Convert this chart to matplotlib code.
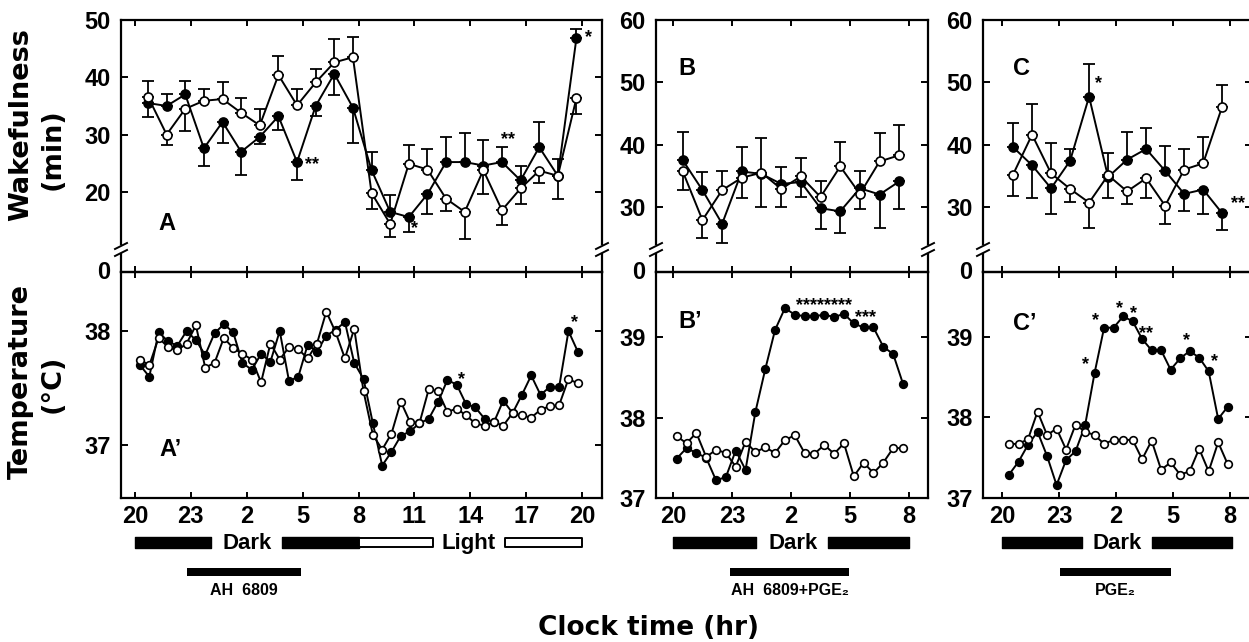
import numpy as np
import matplotlib
matplotlib.use("Agg")
from matplotlib import pyplot as plt

W, H = 1249, 642

# ---- data (hours after 20:00) ----
a_wake_x = np.arange(24) + 0.7
a_wake_filled = [35.5, 35.0, 37.0, 27.6, 32.2, 27.0, 29.6, 33.2, 25.2, 35.0, 40.6, 34.7,
                 23.8, 16.5, 15.6, 19.6, 25.2, 25.2, 24.6, 25.2, 22.0, 27.8, 22.8, 46.9]
a_wake_open = [36.6, 30.0, 34.5, 35.9, 36.2, 33.8, 31.6, 40.4, 35.1, 39.1, 42.6, 43.5,
               19.8, 14.4, 24.9, 23.9, 18.8, 16.5, 23.8, 16.8, 20.6, 23.7, 22.8, 36.4]
a_err_filled = [2.5, 2.1, 2.4, 3.0, 3.6, 4.1, 1.2, 2.4, 3.1, 1.8, 3.7, 6.2,
                3.2, 2.9, 2.6, 3.4, 4.4, 5.0, 4.4, 2.6, 2.6, 4.4, 3.0, 1.5]
a_err_open = [2.8, 1.8, 3.8, 2.1, 2.9, 2.6, 2.8, 3.3, 2.9, 2.4, 4.1, 3.5,
              2.8, 2.2, 3.2, 3.6, 2.2, 4.7, 4.1, 2.6, 2.8, 2.1, 4.0, 2.8]

a_temp_x = np.arange(48) * 0.5 + 0.27
a_temp_filled = [37.70, 37.60, 37.99, 37.91, 37.87, 38.00, 37.92, 37.79, 37.98, 38.06,
                 37.99, 37.72, 37.66, 37.80, 37.73, 38.00, 37.56, 37.60, 37.88, 37.82,
                 37.96, 38.01, 38.08, 37.72, 37.58, 37.19, 36.82, 36.94, 37.08, 37.12,
                 37.19, 37.23, 37.38, 37.57, 37.53, 37.36, 37.33, 37.23, 37.20, 37.39,
                 37.28, 37.44, 37.61, 37.44, 37.51, 37.51, 38.00, 37.82]
a_temp_open = [37.75, 37.70, 37.94, 37.86, 37.83, 37.89, 38.05, 37.68, 37.72, 37.94,
               37.85, 37.80, 37.75, 37.55, 37.89, 37.75, 37.86, 37.84, 37.76, 37.89,
               38.17, 37.99, 37.76, 38.02, 37.47, 37.09, 36.96, 37.10, 37.38, 37.20,
               37.19, 37.49, 37.47, 37.29, 37.32, 37.26, 37.19, 37.17, 37.20, 37.17,
               37.28, 37.26, 37.24, 37.31, 37.34, 37.35, 37.58, 37.54]

b_wake_x = np.arange(12) + 0.5
b_wake_filled = [37.5, 32.7, 27.3, 35.7, 35.3, 33.7, 34.0, 29.8, 29.3, 33.0, 32.0, 34.1]
b_wake_open = [35.7, 27.9, 32.7, 34.7, 35.5, 32.9, 34.9, 31.6, 36.5, 32.1, 37.3, 38.3]
b_err_filled = [4.6, 2.9, 3.0, 4.0, 5.3, 2.7, 2.4, 3.4, 3.5, 2.8, 5.4, 4.4]
b_err_open = [2.9, 2.8, 3.0, 3.2, 5.5, 2.9, 3.0, 2.6, 3.9, 2.5, 4.5, 4.9]

b_temp_x = np.arange(24) * 0.5 + 0.19
b_temp_filled = [37.49, 37.62, 37.56, 37.50, 37.22, 37.26, 37.59, 37.35, 38.07, 38.60,
                 39.09, 39.36, 39.28, 39.26, 39.26, 39.28, 39.25, 39.29, 39.17, 39.12,
                 39.12, 38.88, 38.79, 38.42]
b_temp_open = [37.77, 37.68, 37.81, 37.51, 37.60, 37.56, 37.39, 37.70, 37.57, 37.63,
               37.56, 37.72, 37.78, 37.56, 37.55, 37.66, 37.55, 37.68, 37.27, 37.44,
               37.31, 37.44, 37.62, 37.62]

c_wake_x = np.arange(12) + 0.58
c_wake_filled = [39.6, 36.7, 33.0, 37.4, 47.7, 34.8, 37.6, 39.3, 35.8, 32.1, 32.8, 29.0]
c_wake_open = [35.2, 41.6, 35.4, 32.9, 30.7, 35.1, 32.5, 34.6, 30.2, 36.0, 37.0, 46.1]
c_err_filled = [3.9, 5.2, 4.2, 1.9, 5.2, 3.4, 4.4, 3.4, 4.0, 2.7, 4.0, 2.7]
c_err_open = [3.4, 4.9, 4.8, 2.1, 4.1, 3.5, 2.1, 3.2, 3.0, 3.3, 4.2, 3.4]

c_temp_x = np.arange(24) * 0.5 + 0.37
c_temp_filled = [37.29, 37.45, 37.66, 37.82, 37.52, 37.16, 37.47, 37.58, 37.90, 38.55,
                 39.11, 39.11, 39.25, 39.19, 38.97, 38.83, 38.83, 38.59, 38.73, 38.82,
                 38.74, 38.57, 37.98, 38.13]
c_temp_open = [37.67, 37.67, 37.73, 38.07, 37.78, 37.86, 37.60, 37.91, 37.82, 37.78,
               37.67, 37.72, 37.72, 37.72, 37.48, 37.71, 37.35, 37.44, 37.29, 37.33,
               37.61, 37.33, 37.69, 37.42]

# significance marks (hour, value, text)
a_wake_stars = [(9.5, 25.2, "**"), (15.0, 14.1, "*"), (20.0, 29.6, "**"), (24.35, 47.5, "*")]
a_temp_stars = [(17.55, 37.6, "*"), (23.6, 38.1, "*")]
b_wake_stars = []
b_temp_stars = [(7.7, 39.43, "********"), (9.8, 39.28, "***")]
c_wake_stars = [(5.05, 50.3, "*"), (12.4, 31.0, "**")]
c_temp_stars = [(4.37, 38.69, "*"), (4.9, 39.23, "*"), (6.2, 39.38, "*"), (6.9, 39.32, "*"),
                (7.6, 39.07, "**"), (9.7, 38.98, "*"), (11.2, 38.72, "*")]

# light/dark bars and treatment periods (hours)
a_dark = [(0, 4.1), (7.9, 12)]
a_light = [(12, 16.0), (19.85, 24)]
a_treat = (2.8, 8.9)
b_dark = [(0, 4.2), (7.9, 12)]
b_treat = (2.9, 8.95)
c_dark = [(0, 4.2), (7.9, 12.1)]
c_treat = (3.05, 8.9)

long_labels = ["20", "23", "2", "5", "8", "11", "14", "17", "20"]
short_labels = ["20", "23", "2", "5", "8"]

plt.rcParams["font.family"] = ["Liberation Sans", "DejaVu Sans"]
plt.rcParams["font.weight"] = "bold"

fig = plt.figure(figsize=(W / 100, H / 100), dpi=100)


def rect(l, t, r, b):
    return [l / W, 1 - b / H, (r - l) / W, (b - t) / H]


def ftext(x, y, s, **kw):
    fig.text(x / W, 1 - y / H, s, **kw)


def series(ax, x, y, filled, ms):
    ax.plot(x, y, "-", color="k", lw=1.4, marker="o", ms=ms,
            mfc="k" if filled else "white", mec="k", mew=1.2,
            zorder=3 if filled else 4, clip_on=False)


def errbars(ax, x, f, o, ef, eo):
    f, o, ef, eo = map(np.asarray, (f, o, ef, eo))
    up = f >= o
    ax.errorbar(x, f, yerr=[np.where(up, 0, ef), np.where(up, ef, 0)], fmt="none",
                ecolor="k", elinewidth=1.3, capsize=4, capthick=1.3, zorder=2)
    ax.errorbar(x, o, yerr=[np.where(up, eo, 0), np.where(up, 0, eo)], fmt="none",
                ecolor="k", elinewidth=1.3, capsize=4, capthick=1.3, zorder=2)


def stars(ax, marks):
    for x, y, s in marks:
        ax.annotate(s, xy=(x, y), xytext=(0, -2), textcoords="offset points",
                    fontsize=13, ha="center", va="center", annotation_clip=False)


panels = [
    dict(left=121, right=602, xlim=(-0.75, 25.07), xticks=range(0, 25, 3), xlabels=long_labels,
         wlim=(10.9, 50), wticks=[20, 30, 40, 50], tlim=(36.535, 38.518), tticks=[37, 38],
         wx=a_wake_x, wf=a_wake_filled, wo=a_wake_open, ef=a_err_filled, eo=a_err_open,
         tx=a_temp_x, tf=a_temp_filled, to=a_temp_open, ws=a_wake_stars, ts=a_temp_stars,
         dark=a_dark, light=a_light, treat=a_treat, treat_label="AH  6809", dark_x=6.0,
         letters=[("A", 167, 230), ("A\u2019", 171, 456)], break_right=True),
    dict(left=656, right=928, xlim=(-0.86, 12.96), xticks=range(0, 13, 3), xlabels=short_labels,
         wlim=(24.06, 60), wticks=[30, 40, 50, 60], tlim=(37, 39.81), tticks=[37, 38, 39],
         wx=b_wake_x, wf=b_wake_filled, wo=b_wake_open, ef=b_err_filled, eo=b_err_open,
         tx=b_temp_x, tf=b_temp_filled, to=b_temp_open, ws=b_wake_stars, ts=b_temp_stars,
         dark=b_dark, light=[], treat=b_treat, treat_label="AH  6809+PGE\u2082", dark_x=6.1,
         letters=[("B", 687, 75), ("B\u2019", 690, 328)], break_right=True),
    dict(left=983, right=1252, xlim=(-1.0, 13.15), xticks=range(0, 13, 3), xlabels=short_labels,
         wlim=(24.06, 60), wticks=[30, 40, 50, 60], tlim=(37, 39.8), tticks=[37, 38, 39],
         wx=c_wake_x, wf=c_wake_filled, wo=c_wake_open, ef=c_err_filled, eo=c_err_open,
         tx=c_temp_x, tf=c_temp_filled, to=c_temp_open, ws=c_wake_stars, ts=c_temp_stars,
         dark=c_dark, light=[], treat=c_treat, treat_label="PGE\u2082", dark_x=6.05,
         letters=[("C", 1022, 75), ("C\u2019", 1025, 330)], break_right=False),
]

# overlay in pixel units for the axis breaks
ov = fig.add_axes([0, 0, 1, 1], zorder=-1)
ov.set_xlim(0, W)
ov.set_ylim(H, 0)
ov.axis("off")

for p in panels:
    top = fig.add_axes(rect(p["left"], 20, p["right"], 244))
    bot = fig.add_axes(rect(p["left"], 272, p["right"], 498))
    for ax in (top, bot):
        ax.set_facecolor("none")
        ax.set_xlim(*p["xlim"])
        ax.set_xticks(list(p["xticks"]))
        for s in ax.spines.values():
            s.set_linewidth(1.6)
        ax.tick_params(axis="y", which="both", left=True, right=True, direction="in",
                       length=5, width=1.4, labelsize=17, pad=7.5)

    # wakefulness
    top.spines["bottom"].set_visible(False)
    top.set_ylim(*p["wlim"])
    top.set_yticks(p["wticks"])
    top.tick_params(axis="x", bottom=False, top=True, direction="in", length=4.5, width=1.4,
                    labelbottom=False)
    errbars(top, p["wx"], p["wf"], p["wo"], p["ef"], p["eo"])
    series(top, p["wx"], p["wf"], True, 6.5)
    series(top, p["wx"], p["wo"], False, 6.5)
    stars(top, p["ws"])

    # temperature
    bot.set_ylim(*p["tlim"])
    bot.set_yticks(p["tticks"])
    bot.set_xticklabels(p["xlabels"])
    bot.tick_params(axis="x", bottom=True, top=False, direction="in", length=4.5, width=1.4,
                    labelsize=17, pad=5)
    sec = bot.secondary_xaxis("top")
    sec.set_xticks(list(p["xticks"]))
    sec.tick_params(axis="x", direction="inout", length=9, width=1.4, labeltop=False)
    sec.spines["top"].set_linewidth(1.6)
    bot.annotate("0", xy=(0, 1), xycoords="axes fraction", xytext=(-7.5, 0),
                 textcoords="offset points", ha="right", va="center", fontsize=17)
    series(bot, p["tx"], p["tf"], True, 5.5)
    series(bot, p["tx"], p["to"], False, 5.5)
    stars(bot, p["ts"])

    for lab, x, y in p["letters"]:
        ftext(x, y, lab, fontsize=17, ha="center", va="baseline")

    # axis break marks
    xs = [p["left"]] + ([p["right"]] if p["break_right"] else [])
    for x in xs:
        ov.plot([x, x], [254, 272], color="k", lw=1.6)
        ov.plot([x - 6, x + 6], [249, 243], color="k", lw=1.4)
        ov.plot([x - 6, x + 6], [256, 250], color="k", lw=1.4)

    # dark / light bars and treatment bar
    bar = fig.add_axes(rect(p["left"], 525, p["right"], 605))
    bar.set_xlim(*p["xlim"])
    bar.set_ylim(605, 525)
    bar.axis("off")
    bar.broken_barh([(s, e - s) for s, e in p["dark"]], (537, 11), facecolors="k",
                    edgecolors="k", linewidth=1)
    if p["light"]:
        bar.broken_barh([(s, e - s) for s, e in p["light"]], (538, 9), facecolors="white",
                        edgecolors="k", linewidth=1.4)
        bar.text(17.9, 549, "Light", fontsize=16, ha="center", va="baseline")
    bar.text(p["dark_x"], 549, "Dark", fontsize=16, ha="center", va="baseline")
    t0, t1 = p["treat"]
    bar.broken_barh([(t0, t1 - t0)], (568, 8), facecolors="k")
    bar.text((t0 + t1) / 2, 595, p["treat_label"], fontsize=11.5, ha="center", va="baseline")

ftext(21, 125, "Wakefulness", rotation=90, ha="center", va="center", fontsize=19.5,
      family="DejaVu Sans")
ftext(53, 149, "(min)", rotation=90, ha="center", va="center", fontsize=19.5,
      family="DejaVu Sans")
ftext(21, 382, "Temperature", rotation=90, ha="center", va="center", fontsize=19.5,
      family="DejaVu Sans")
ftext(53, 384, "(\u00b0C)", rotation=90, ha="center", va="center", fontsize=19.5,
      family="DejaVu Sans")
ftext(649, 635, "Clock time (hr)", ha="center", va="baseline", fontsize=19, family="DejaVu Sans")

fig.savefig("out.png", dpi=100)
